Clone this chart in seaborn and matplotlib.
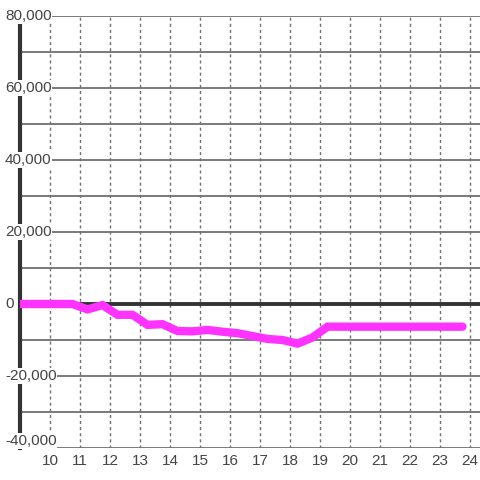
import matplotlib
matplotlib.use("Agg")
import matplotlib.pyplot as plt
import matplotlib.transforms as mtransforms
import numpy as np
import pandas as pd
import seaborn as sns

# donnees
hours = [9.0, 9.25, 9.75, 10.25, 10.75, 11.25, 11.75, 12.25, 12.75, 13.25, 13.75,
         14.25, 14.75, 15.25, 15.75, 16.25, 16.75, 17.25, 17.75, 18.25, 18.75,
         19.25, 19.75, 20.25, 20.75, 21.25, 21.75, 22.25, 22.75, 23.25, 23.75]
values = [0, 0, 0, 0, 0, -1500, -300, -3000, -3000, -5800, -5600,
          -7500, -7600, -7200, -7700, -8100, -8900, -9700, -10000, -11000, -9300,
          -6300, -6300, -6300, -6300, -6300, -6300, -6300, -6300, -6300, -6300]
x_ticks = list(range(10, 25))
y_grid = list(range(-40000, 80001, 10000))
y_labels = list(range(-40000, 80001, 20000))

df = pd.DataFrame({"hour": hours, "value": values})

sns.set_style("white")
plt.rcParams["font.family"] = ["Liberation Sans", "DejaVu Sans"]

fig = plt.figure(figsize=(4.8, 4.8), dpi=100)
ax = fig.add_axes([20 / 480, 32 / 480, 460 / 480, 432 / 480])

ax.set_xlim(9.0, 24.333)
ax.set_ylim(-40000, 80000)

# grille
for y in y_grid:
    ax.axhline(y, color="#707070", lw=1.3, zorder=1)
for x in x_ticks:
    ax.axvline(x, color="#707070", lw=1.0, ls=(0, (2.2, 2.2)), zorder=1)
ax.axhline(0, color="#333333", lw=2.8, zorder=1.5)

sns.lineplot(data=df, x="hour", y="value", ax=ax, color="#ff33ff", lw=6,
             solid_joinstyle="miter", zorder=3)

# axes
for s in ["top", "right", "bottom"]:
    ax.spines[s].set_visible(False)
ax.spines["left"].set_color("#333333")
ax.spines["left"].set_linewidth(3)
ax.spines["left"].set_zorder(1.8)
ax.set_xticks(x_ticks)
ax.set_xticklabels([str(t) for t in x_ticks])
ax.tick_params(axis="x", length=0, pad=4, labelsize=11, labelcolor="#444444")
ax.set_yticks([])
ax.set_xlabel("")
ax.set_ylabel("")

# etiquettes de l'axe y, posees dans le graphique
trans = mtransforms.blended_transform_factory(fig.transFigure, ax.transData)
for y in y_labels:
    va = "bottom" if y == y_labels[0] else "center"
    ax.text(5 / 480, y, f"{y:,}", ha="left", va=va, fontsize=11, color="#444444",
            transform=trans, zorder=2.5,
            bbox=dict(facecolor="white", edgecolor="none", pad=0.5))

fig.savefig("out.png", dpi=100)
